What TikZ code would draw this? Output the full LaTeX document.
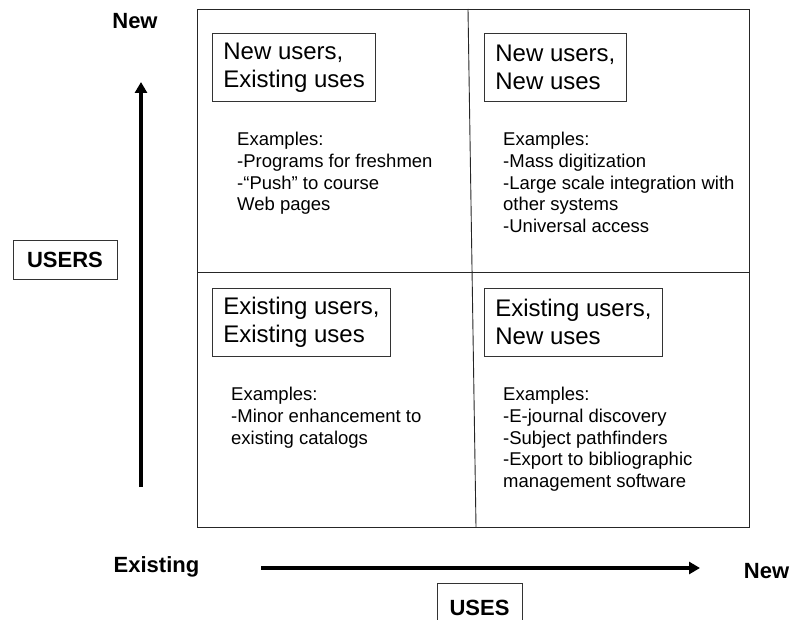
\documentclass[tikz,border=0pt]{standalone}
\usepackage{fontspec}
\setmainfont{Liberation Sans}
\usetikzlibrary{arrows.meta}
\tikzset{
  qtitle/.style={draw=black!80, line width=0.8bp, anchor=north west, inner xsep=11bp, inner ysep=0pt,
    minimum height=68bp, align=left, font=\fontsize{24bp}{28bp}\selectfont},
  examples/.style={anchor=north west, inner sep=0pt, align=left, font=\fontsize{18.5bp}{21.7bp}\selectfont},
  axislabel/.style={font=\fontsize{22bp}{26bp}\selectfont\bfseries, inner sep=0pt},
  axisbox/.style={draw=black!80, line width=0.8bp, font=\fontsize{22bp}{26bp}\selectfont\bfseries, inner sep=0pt},
  grid/.style={draw=black!85, line width=0.9bp},
  axisarrow/.style={line width=3.6bp, -{Triangle[width=12bp,length=11bp]}}
}
\begin{document}
\begin{tikzpicture}[x=1bp,y=-1bp]
\clip (0,0) rectangle (792,620);
\fill[white] (0,0) rectangle (792,620);
% grid
\draw[grid] (197,9) rectangle (749,527);
\draw[grid] (197,272) -- (749,272);
\draw[grid] (468,9) -- (476,527);
% quadrant titles
\node[qtitle, minimum width=162bp] (tl) at (212,33) {New users,\\Existing uses};
\node[qtitle, minimum width=140bp] (tr) at (484,33) {New users,\\New uses};
\node[qtitle, minimum width=177bp] (bl) at (212,288) {Existing users,\\Existing uses};
\node[qtitle, minimum width=177bp] (br) at (484,288) {Existing users,\\New uses};
% examples
\node[examples] (tlx) at (237,132) {Examples:\\-Programs for freshmen\\-“Push” to course\\Web pages};
\node[examples] (trx) at (503,132) {Examples:\\-Mass digitization\\-Large scale integration with\\other systems\\-Universal access};
\node[examples] (blx) at (231,387) {Examples:\\-Minor enhancement to\\existing catalogs};
\node[examples] (brx) at (503,387) {Examples:\\-E-journal discovery\\-Subject pathfinders\\-Export to bibliographic\\management software};
% axis labels
\node[axislabel] (newy) at (135,21) {New};
\node[axisbox, minimum width=104bp, minimum height=39bp] (users) at (65,259.5) {USERS};
\node[axislabel] (exist) at (156.5,566.5) {Existing};
\node[axislabel] (newx) at (766.5,571) {New};
\node[axisbox, minimum width=85bp, minimum height=50bp, anchor=north] (uses) at (479.5,583) {USES};
% arrows
\coordinate (ya) at (141,487);
\coordinate (yb) at (141,82);
\coordinate (xa) at (261,568);
\coordinate (xb) at (700,568);
\draw[axisarrow] (ya) -- (yb);
\draw[axisarrow] (xa) -- (xb);
\end{tikzpicture}
\end{document}
